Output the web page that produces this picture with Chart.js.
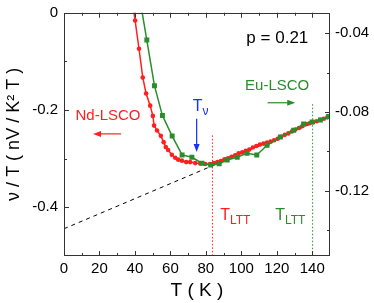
<!DOCTYPE html>
<html>
<head>
<meta charset="utf-8">
<script src="https://cdn.jsdelivr.net/npm/chart.js@4.4.1/dist/chart.umd.min.js"></script>
<style>
    html, body { margin: 0; padding: 0; background: #fff; }
</style>
</head>
<body>
<canvas id="chart" width="374" height="303"></canvas>
<script>
// Nd-LSCO, nu/T on the left axis
const ndT = [39.2, 40.1, 42.3, 44.4, 46.3, 48.6, 50.1, 50.8, 52.5, 54.6, 56.2, 57.4, 58.7, 60.8, 62.7,
    64.4, 66.5, 68.9, 71.1, 74.0, 76.8, 79.6, 82.4, 84.5, 86.5, 88.5, 90.5, 92.5, 94.5, 96.5, 98.5,
    100.5, 102.5, 104.5, 106.5, 108.5, 110.5, 112.5, 114.5, 116.5, 118.5, 120.5, 122.5, 124.5, 126.5,
    128.5, 130.5, 132.5, 134.5, 136.5, 138.5, 140.5, 142.5, 144.5, 146.5, 148.5, 150];
const ndV = [0.008, -0.016, -0.074, -0.133, -0.166, -0.191, -0.212, -0.232, -0.242, -0.253, -0.266, -0.276, -0.282, -0.292, -0.298,
    -0.302, -0.304, -0.307, -0.307, -0.309, -0.310, -0.311, -0.311, -0.309, -0.307, -0.305, -0.301, -0.299, -0.296, -0.293, -0.289,
    -0.287, -0.284, -0.281, -0.277, -0.274, -0.271, -0.269, -0.267, -0.265, -0.262, -0.259, -0.255, -0.251, -0.248,
    -0.244, -0.240, -0.237, -0.233, -0.229, -0.227, -0.225, -0.223, -0.220, -0.218, -0.215, -0.213];

// Eu-LSCO, nu/T on the right axis
const euT = [43.6, 46.7, 51.0, 55.5, 61.0, 66.6, 72.1, 77.8, 82.7, 87.5, 92.0, 97.7, 103.2, 108.7,
    114.5, 122.0, 129.5, 135.1, 139.9, 144.6, 149.2];
const euV = [-0.027, -0.0435, -0.0667, -0.0819, -0.0923, -0.1019, -0.1031, -0.1061, -0.1071, -0.1064, -0.1045, -0.1031, -0.1010, -0.1019,
    -0.0970, -0.0928, -0.0894, -0.0862, -0.0852, -0.0841, -0.0824];

// linear extrapolation (dashed)
const fitT = [0, 150];
const fitV = [-0.444, -0.212];

// T_LTT markers
const lttNdT = [83.7, 83.7];
const lttNdV = [-0.252, -0.5];
const lttEuT = [140.2, 140.2];
const lttEuV = [-0.188, -0.5];

// ticks
const xTicks = [0, 20, 40, 60, 80, 100, 120, 140];
const yTicks = [0, -0.2, -0.4];
const y2Ticks = [-0.04, -0.08, -0.12];

const FONT = '"Liberation Sans", Arial, sans-serif';
const RED = '#ff1f1f';
const GREEN = '#2a8c2a';
const BLUE = '#1a30ff';

Chart.defaults.font.family = FONT;
Chart.defaults.color = '#000';

function pts(xs, ys) {
    return xs.map((t, i) => ({ x: t, y: ys[i] }));
}

// Frame with inward ticks
const framePlugin = {
    id: 'frame',
    afterDatasetsDraw(chart) {
        const { ctx, chartArea: a } = chart;
        const sx = chart.scales.x, sy = chart.scales.y, sy2 = chart.scales.y2;
        ctx.save();
        ctx.strokeStyle = '#333';
        ctx.lineWidth = 1;
        ctx.strokeRect(Math.round(a.left) + 0.5, Math.round(a.top) + 0.5,
            Math.round(a.right - a.left) - 1, Math.round(a.bottom - a.top) - 1);
        ctx.beginPath();
        for (let t = 10; t < 150; t += 10) {
            const p = Math.round(sx.getPixelForValue(t)) + 0.5;
            const len = t % 20 === 0 ? 5 : 3;
            ctx.moveTo(p, a.bottom); ctx.lineTo(p, a.bottom - len);
            ctx.moveTo(p, a.top); ctx.lineTo(p, a.top + len);
        }
        for (let k = 1; k < 5; k++) {
            const v = -k * 0.1;
            const p = Math.round(sy.getPixelForValue(v)) + 0.5;
            const len = k % 2 === 0 ? 5 : 3;
            ctx.moveTo(a.left, p); ctx.lineTo(a.left + len, p);
        }
        for (let k = 2; k <= 7; k++) {
            const v = -k * 0.02;
            const p = Math.round(sy2.getPixelForValue(v)) + 0.5;
            const len = k % 2 === 0 ? 5 : 3;
            ctx.moveTo(a.right, p); ctx.lineTo(a.right - len, p);
        }
        ctx.stroke();
        ctx.restore();
    }
};

function arrow(ctx, x1, y1, x2, y2, color) {
    const ang = Math.atan2(y2 - y1, x2 - x1);
    ctx.strokeStyle = color;
    ctx.fillStyle = color;
    ctx.lineWidth = 1.2;
    ctx.beginPath();
    ctx.moveTo(x1, y1);
    ctx.lineTo(x2 - 5 * Math.cos(ang), y2 - 5 * Math.sin(ang));
    ctx.stroke();
    ctx.beginPath();
    ctx.moveTo(x2, y2);
    ctx.lineTo(x2 - 8 * Math.cos(ang) + 3 * Math.sin(ang), y2 - 8 * Math.sin(ang) - 3 * Math.cos(ang));
    ctx.lineTo(x2 - 8 * Math.cos(ang) - 3 * Math.sin(ang), y2 - 8 * Math.sin(ang) + 3 * Math.cos(ang));
    ctx.closePath();
    ctx.fill();
}

function subLabel(ctx, x, y, main, sub, color) {
    ctx.fillStyle = color;
    ctx.textAlign = 'left';
    ctx.textBaseline = 'alphabetic';
    ctx.font = '16px ' + FONT;
    ctx.fillText(main, x, y);
    const w = ctx.measureText(main).width;
    ctx.font = '12px ' + FONT;
    ctx.fillText(sub, x + w, y + 4);
}

// Text labels and arrows
const notesPlugin = {
    id: 'notes',
    afterDraw(chart) {
        const { ctx } = chart;
        const px = t => chart.scales.x.getPixelForValue(t);
        const py = v => chart.scales.y.getPixelForValue(v);
        ctx.save();
        ctx.textBaseline = 'middle';
        ctx.textAlign = 'center';

        ctx.fillStyle = '#000';
        ctx.font = '17px ' + FONT;
        ctx.fillText('p = 0.21', px(120.3), py(-0.052));

        ctx.fillStyle = RED;
        ctx.font = '15px ' + FONT;
        ctx.fillText('Nd-LSCO', px(24.8), py(-0.212));
        arrow(ctx, px(32.2), py(-0.249), px(16.4), py(-0.249), RED);

        ctx.fillStyle = GREEN;
        ctx.textBaseline = 'middle';
        ctx.textAlign = 'center';
        ctx.font = '15px ' + FONT;
        ctx.fillText('Eu-LSCO', px(120.2), py(-0.150));
        arrow(ctx, px(114.8), py(-0.185), px(130.4), py(-0.185), GREEN);

        subLabel(ctx, px(72.6), py(-0.202), 'T', 'ν', BLUE);
        arrow(ctx, px(74.8), py(-0.218), px(74.8), py(-0.286), BLUE);

        subLabel(ctx, px(88.1), py(-0.426), 'T', 'LTT', RED);
        subLabel(ctx, px(119.1), py(-0.426), 'T', 'LTT', GREEN);
        ctx.restore();
    }
};

new Chart(document.getElementById('chart'), {
    type: 'scatter',
    data: {
        datasets: [
            {
                label: 'Eu-LSCO',
                data: pts(euT, euV),
                yAxisID: 'y2',
                showLine: true,
                borderColor: GREEN,
                backgroundColor: GREEN,
                borderWidth: 1.5,
                pointStyle: 'rect',
                pointRadius: 3.5,
                pointBorderWidth: 0,
                order: 0
            },
            {
                label: 'Nd-LSCO',
                data: pts(ndT, ndV),
                yAxisID: 'y',
                showLine: true,
                borderColor: RED,
                backgroundColor: RED,
                borderWidth: 1.5,
                pointRadius: 2.3,
                pointBorderWidth: 0,
                order: 1
            },
            {
                label: 'fit',
                data: pts(fitT, fitV),
                yAxisID: 'y',
                showLine: true,
                borderColor: '#000',
                borderWidth: 1,
                borderDash: [4, 4],
                pointRadius: 0,
                order: 2
            },
            {
                label: 'TLTT Nd',
                data: pts(lttNdT, lttNdV),
                yAxisID: 'y',
                showLine: true,
                borderColor: RED,
                borderWidth: 1,
                borderDash: [1.5, 2],
                pointRadius: 0,
                order: 3
            },
            {
                label: 'TLTT Eu',
                data: pts(lttEuT, lttEuV),
                yAxisID: 'y',
                showLine: true,
                borderColor: GREEN,
                borderWidth: 1,
                borderDash: [1.5, 2],
                pointRadius: 0,
                order: 3
            }
        ]
    },
    options: {
        responsive: false,
        animation: false,
        devicePixelRatio: 1,
        layout: { padding: { top: 7, left: 0, right: 0, bottom: 0 } },
        plugins: {
            legend: { display: false },
            tooltip: { enabled: false }
        },
        scales: {
            x: {
                type: 'linear',
                min: 0,
                max: 150,
                grid: { display: false, drawTicks: false },
                border: { display: false },
                afterBuildTicks: s => { s.ticks = xTicks.map(v => ({ value: v })); },
                afterFit: s => { s.height = 47; },
                ticks: {
                    padding: 5,
                    font: { size: 15, lineHeight: 1 },
                    callback: v => String(v)
                },
                title: {
                    display: true,
                    text: 'T ( K )',
                    font: { size: 19 },
                    padding: { top: 0, bottom: 1 }
                }
            },
            y: {
                position: 'left',
                min: -0.5,
                max: 0,
                grid: { display: false, drawTicks: false },
                border: { display: false },
                afterBuildTicks: s => { s.ticks = yTicks.map(v => ({ value: v })); },
                afterFit: s => { s.width = 64; },
                ticks: {
                    padding: 6,
                    font: { size: 15, lineHeight: 0.9 },
                    callback: v => v === 0 ? '0' : v.toFixed(1)
                },
                title: {
                    display: true,
                    text: 'ν / T ( nV / K² T )',
                    font: { size: 18 },
                    padding: { top: 3, bottom: 0 }
                }
            },
            y2: {
                position: 'right',
                min: -0.1533,
                max: -0.0296,
                grid: { display: false, drawTicks: false },
                border: { display: false },
                afterBuildTicks: s => { s.ticks = y2Ticks.map(v => ({ value: v })); },
                afterFit: s => { s.width = 44; },
                ticks: {
                    padding: 5,
                    font: { size: 15, lineHeight: 0.9 },
                    callback: v => v.toFixed(2)
                }
            }
        }
    },
    plugins: [framePlugin, notesPlugin]
});
</script>
</body>
</html>
